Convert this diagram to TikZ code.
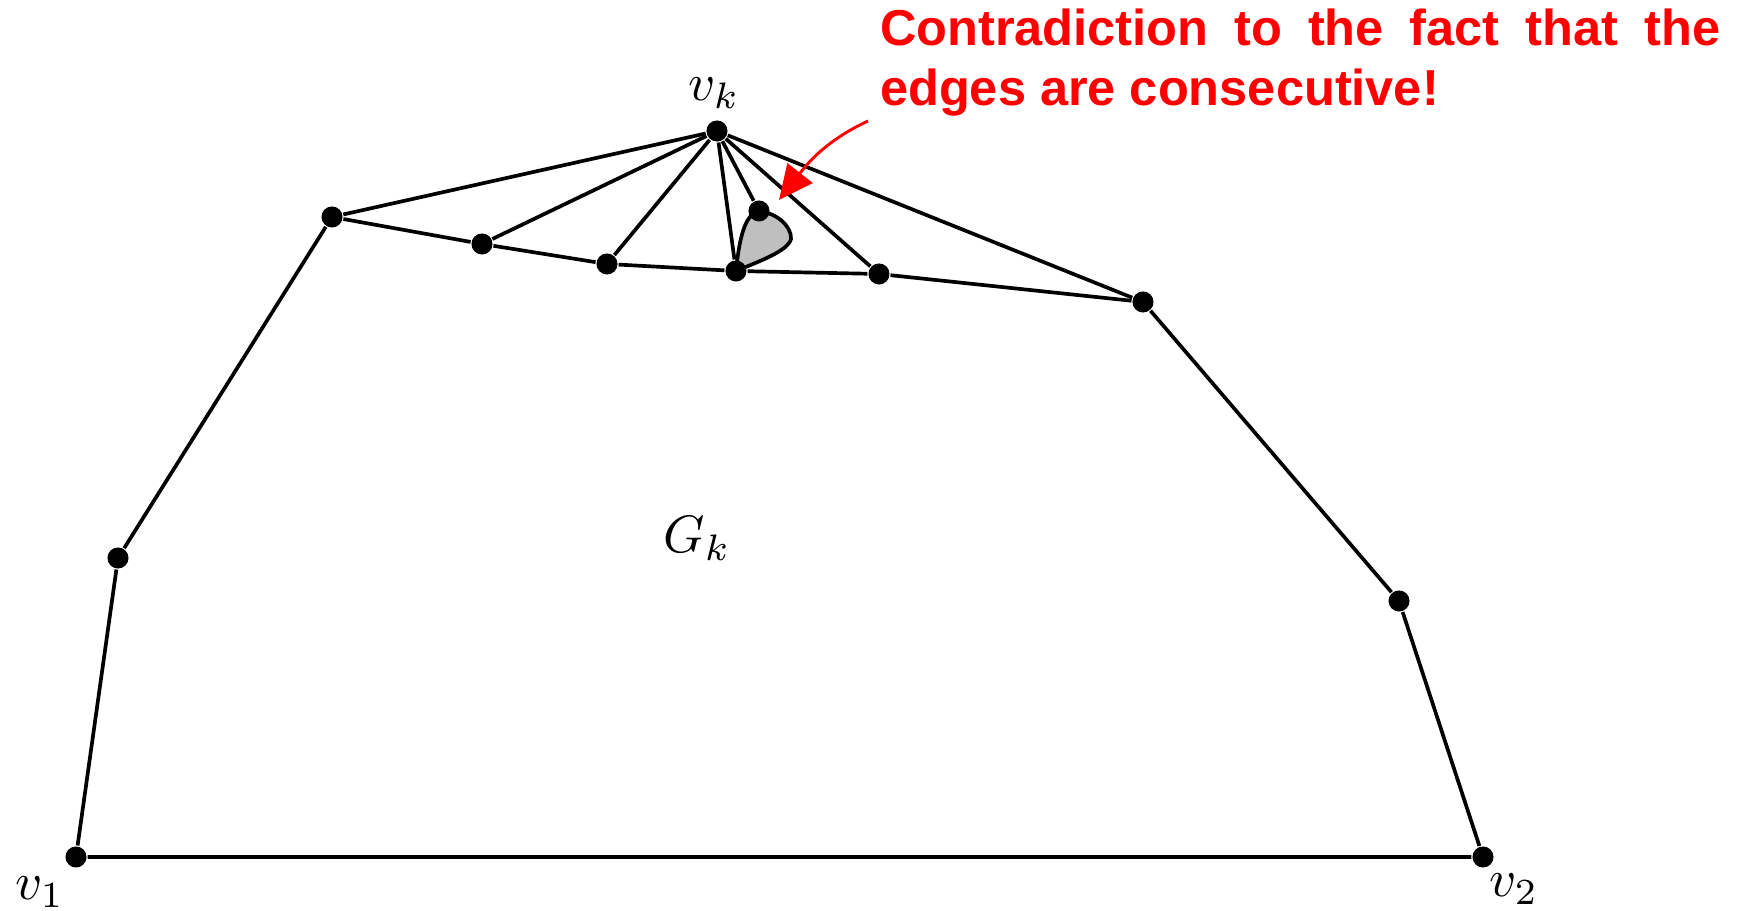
\documentclass[tikz,border=0pt]{standalone}
\usepackage{amsmath,amssymb}
\usepackage{fontspec}
\newfontfamily\notefont{Liberation Sans}
\usetikzlibrary{positioning,calc,arrows.meta}

\begin{document}
\begin{tikzpicture}[x=0.6677cm,y=0.6677cm,
  vert/.style={circle,fill,inner sep=0pt,minimum size=4pt},
  edge/.style={line width=0.7pt},
  note/.style={text=red,font=\notefont\bfseries\fontsize{9.6pt}{11.4pt}\selectfont,
    text width=159.6pt,align=justify,inner sep=0pt}]
  \useasboundingbox (0,0) rectangle (17.47,9.11);
  % the shaded face
  \draw[edge,fill=gray!50] (7.36,6.40) .. controls (7.40,6.80) and (7.47,6.99) .. (7.60,6.99)
    .. controls (7.75,6.99) and (7.92,6.85) .. (7.91,6.72)
    .. controls (7.88,6.60) and (7.60,6.50) .. (7.36,6.40);
  \node[vert] (v1) at (0.76,0.54) {};
  \node[vert] (v2) at (14.83,0.54) {};
  \node[vert] (l1) at (1.18,3.53) {};
  \node[vert] (l2) at (3.32,6.94) {};
  \node[vert] (u1) at (4.82,6.67) {};
  \node[vert] (u2) at (6.07,6.47) {};
  \node[vert] (u3) at (7.36,6.40) {};
  \node[vert] (u4) at (8.79,6.37) {};
  \node[vert] (r2) at (11.43,6.09) {};
  \node[vert] (r1) at (13.99,3.10) {};
  \node[vert] (vk) at (7.17,7.80) {};
  \node[vert] (w) at (7.59,7.00) {};
  \draw[edge] (v1) -- (l1) -- (l2) -- (u1) -- (u2) -- (u3) -- (u4) -- (r2) -- (r1) -- (v2) -- (v1);
  \draw[edge] (l2) -- (vk) -- (r2);
  \foreach \n in {u1,u2,u3,w,u4} \draw[edge] (vk) -- (\n);
  % labels
  \node[anchor=base] (vklab) at (7.14,8.10) {$v_k$};
  \node[anchor=base] (v1lab) at (0.40,0.11) {$v_1$};
  \node[anchor=base] (v2lab) at (15.14,0.14) {$v_2$};
  \node[anchor=base] (gklab) at (6.97,3.58) {$G_k$};
  % the remark
  \node[note,anchor=north west] (remark) at (8.79,9.03)
    {Contradiction to the fact that the\linebreak edges are consecutive!};
  \coordinate (arrtail) at (8.68,7.90);
  \coordinate (arrhead) at (7.79,7.11);
  \draw[red,line width=0.55pt,-{Triangle[length=6.5pt,width=6pt]}] (arrtail) to[out=205,in=52] (arrhead);
\end{tikzpicture}
\end{document}
